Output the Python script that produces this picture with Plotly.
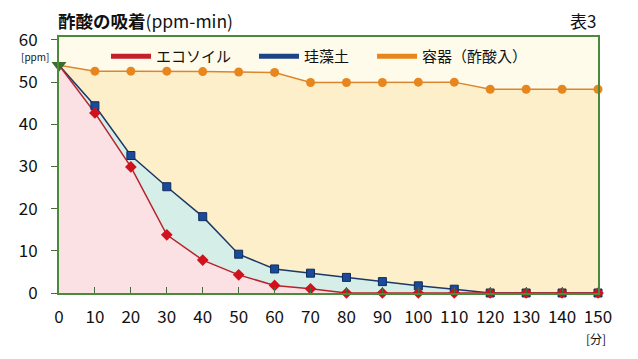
import plotly.graph_objects as go

minutes = [0, 10, 20, 30, 40, 50, 60, 70, 80, 90, 100, 110, 120, 130, 140, 150]
ecosoil = [54, 42.7, 29.9, 13.8, 7.8, 4.3, 1.8, 1.0, 0, 0, 0, 0, 0, 0, 0, 0]
keisodo = [54, 44.4, 32.6, 25.2, 18.1, 9.2, 5.7, 4.7, 3.7, 2.7, 1.7, 0.9, 0, 0, 0, 0]
container = [54, 52.6, 52.6, 52.6, 52.5, 52.4, 52.3, 49.9, 49.9, 49.9, 50.0, 50.0, 48.3, 48.3, 48.3, 48.3]
names = ["エコソイル", "珪藻土", "容器（酢酸入）"]
y_ticks = [0, 10, 20, 30, 40, 50, 60]
x_ticks = minutes

FONT = "Noto Sans CJK JP"
RED = "#c4202a"
BLUE = "#1b4585"
ORANGE = "#e8861e"

# page has an 8px body margin; figure is sized so the plot lands where the reference has it
W, H = 630, 351
L, R, T, B = 51, 40, 29, 66
PW, PH = W - L - R, H - T - B   # 539 x 256
X0, Y0 = 59, 37                 # plot origin in window pixels


def px(xw):
    return (xw - X0) / PW


def py(yw):
    return 1 - (yw - Y0) / PH


fig = go.Figure()

# fills + lines
fig.add_trace(go.Scatter(
    x=minutes, y=container, mode="lines", fill="tozeroy", fillcolor="#fdefc9",
    line=dict(color="#d9862e", width=1.5), showlegend=False))
fig.add_trace(go.Scatter(
    x=minutes, y=keisodo, mode="lines", fill="tozeroy", fillcolor="#d6eee8",
    line=dict(color="#1c3866", width=1.5), showlegend=False))
fig.add_trace(go.Scatter(
    x=minutes, y=ecosoil, mode="lines", fill="tozeroy", fillcolor="#fbe1e4",
    line=dict(color="#b8222c", width=1.5), showlegend=False))

# markers
fig.add_trace(go.Scatter(
    x=minutes[1:], y=container[1:], mode="markers", showlegend=False, cliponaxis=False,
    marker=dict(color=ORANGE, size=9, symbol="circle")))
fig.add_trace(go.Scatter(
    x=minutes[1:], y=keisodo[1:], mode="markers", showlegend=False, cliponaxis=False,
    marker=dict(color="#1a4a9a", size=8, symbol="square", line=dict(color="#0f2c5c", width=1))))
fig.add_trace(go.Scatter(
    x=minutes[1:], y=ecosoil[1:], mode="markers", showlegend=False, cliponaxis=False,
    marker=dict(color="#d0121c", size=9, symbol="diamond")))
fig.add_trace(go.Scatter(
    x=minutes[:1], y=ecosoil[:1], mode="markers", showlegend=False, cliponaxis=False,
    marker=dict(color="#3d6b2a", size=13, symbol="triangle-down")))

# legend entries (line only)
for name, col in zip(names, [RED, BLUE, ORANGE]):
    fig.add_trace(go.Scatter(x=[None], y=[None], mode="lines",
                             name=name + "\u2002\u2002\u2009",
                             line=dict(color=col, width=5)))

fig.update_layout(
    width=W, height=H,
    margin=dict(l=L, r=R, t=T, b=B, autoexpand=False),
    paper_bgcolor="white", plot_bgcolor="#fffbea",
    font=dict(family=FONT, size=15, color="#111"),
    showlegend=True,
    legend=dict(orientation="h", x=px(106), y=py(40), xanchor="left", yanchor="top",
                bgcolor="rgba(0,0,0,0)", font=dict(size=15, color="#111"),
                traceorder="normal", itemwidth=40),
)
fig.update_xaxes(range=[0, 150], tickvals=x_ticks, ticktext=[str(v) for v in x_ticks],
                 showgrid=False, zeroline=False, showline=True, linecolor="#4a8a3a",
                 linewidth=2, mirror=True, ticks="inside", ticklen=6, tickcolor="#4a6a3a",
                 tickfont=dict(size=17), ticklabelstandoff=8)
fig.update_yaxes(range=[0, 60.7], tickvals=y_ticks, ticktext=[str(v) for v in y_ticks],
                 showgrid=False, zeroline=False, showline=True, linecolor="#4a8a3a",
                 linewidth=2, mirror=True, ticks="outside", ticklen=6, tickcolor="#4a6a3a",
                 tickfont=dict(size=17), ticklabelstandoff=10)

fig.add_annotation(text="<b>酢酸の吸着</b>(ppm-min)", x=px(56), y=py(20), xref="paper", yref="paper",
                   showarrow=False, font=dict(size=17.5, family=FONT), xanchor="left", yanchor="middle")
fig.add_annotation(text="表3", x=px(598), y=py(20), xref="paper", yref="paper",
                   showarrow=False, font=dict(size=17, family=FONT), xanchor="right", yanchor="middle")
fig.add_annotation(text="[ppm]", x=px(51), y=py(56), xref="paper", yref="paper",
                   showarrow=False, font=dict(size=10, family=FONT), xanchor="right", yanchor="middle")
fig.add_annotation(text="[分]", x=px(608), y=py(338), xref="paper", yref="paper",
                   showarrow=False, font=dict(size=12, family=FONT), xanchor="right", yanchor="middle")

fig.write_html("out.html")
